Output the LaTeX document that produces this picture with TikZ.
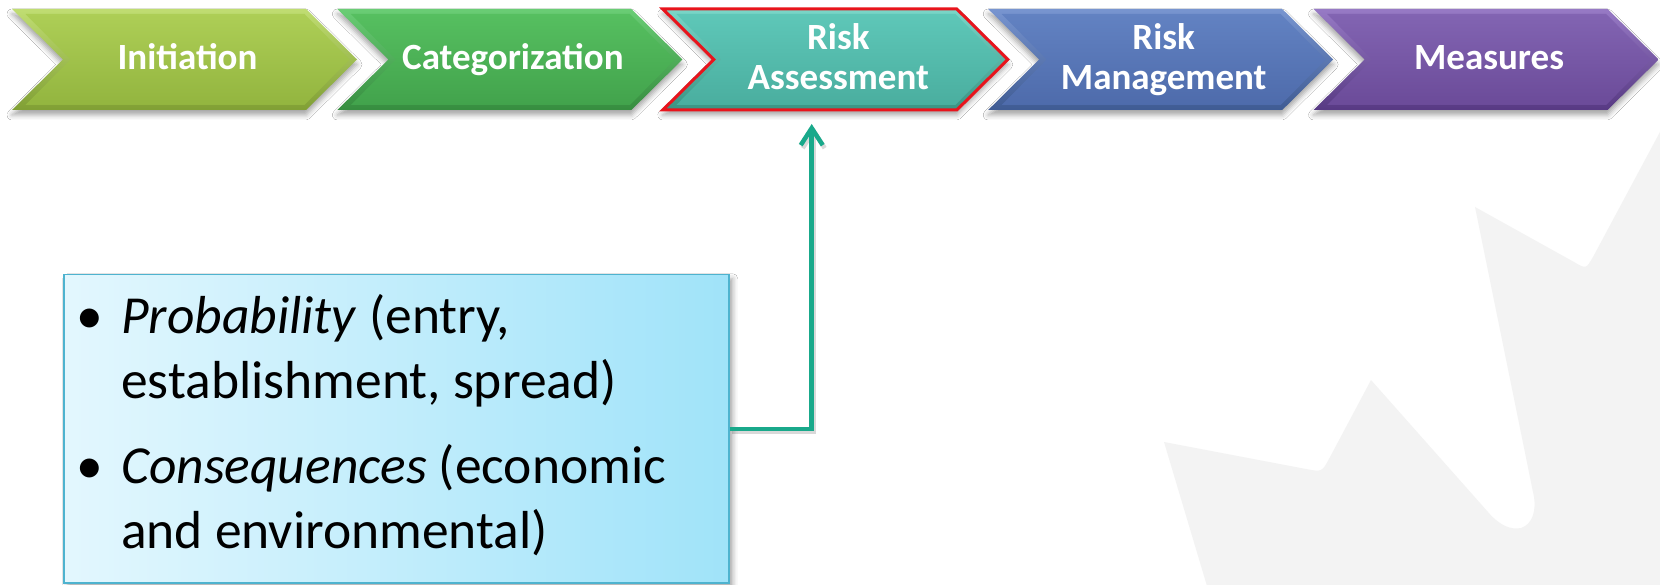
\documentclass[tikz,border=0pt]{standalone}
\usepackage{fontspec}
\setmainfont{Carlito}
\usetikzlibrary{shadows.blur,arrows.meta,calc}
\definecolor{bggray}{HTML}{F3F3F3}
\definecolor{conncol}{HTML}{19A98B}
\definecolor{boxborder}{HTML}{4EB3CF}
\definecolor{boxleft}{HTML}{E3F7FE}
\definecolor{boxright}{HTML}{A0E3F9}
\definecolor{redline}{HTML}{E8141C}
\definecolor{aT}{HTML}{C0DD72}\definecolor{aB}{HTML}{809F34}\definecolor{aiT}{HTML}{ADCE56}\definecolor{aiB}{HTML}{93B53F}
\definecolor{bT}{HTML}{6ACD75}\definecolor{bB}{HTML}{368D3F}\definecolor{biT}{HTML}{56BF60}\definecolor{biB}{HTML}{42A34C}
\definecolor{cT}{HTML}{7AD6C8}\definecolor{cB}{HTML}{3A9383}\definecolor{ciT}{HTML}{5EC7B8}\definecolor{ciB}{HTML}{4AAE9F}
\definecolor{dT}{HTML}{7895D0}\definecolor{dB}{HTML}{3F5B93}\definecolor{diT}{HTML}{6282C2}\definecolor{diB}{HTML}{4E6BAB}
\definecolor{eT}{HTML}{977AC5}\definecolor{eB}{HTML}{573983}\definecolor{eiT}{HTML}{8264B2}\definecolor{eiB}{HTML}{6B4B99}
\begin{document}
\begin{tikzpicture}[x=1pt,y=-1pt,
  chevtext/.style={text=white,font=\fontsize{37}{40}\selectfont\bfseries,inner sep=0pt,anchor=base},
  chevshadow/.style={blur shadow={shadow xshift=0pt,shadow yshift=-5pt,shadow blur radius=5pt,shadow opacity=35}},
  boxstyle/.style={draw=boxborder,line width=1.5pt,left color=boxleft,right color=boxright,
    blur shadow={shadow xshift=4pt,shadow yshift=-4pt,shadow blur radius=5pt,shadow opacity=35},
    minimum width=665pt,minimum height=308pt,inner sep=0pt,anchor=north west},
  conn/.style={draw=conncol,line width=4.5pt,line join=miter,-{Straight Barb[length=17pt,width=22pt]}},
]
\useasboundingbox (0,0) rectangle (1660,585);
\fill[white] (0,0) rectangle (1660,585);
% background decoration
\fill[bggray] (1207,586) -- (1164,442) -- (1306,469) .. controls (1322,472) .. (1329.5,458)
  -- (1371,380) -- (1488,512) .. controls (1500,526) and (1511,530) .. (1521,528)
  .. controls (1533,524) and (1536,510) .. (1534,497) -- (1475,207)
  -- (1574,262) .. controls (1586,269) .. (1593,257) -- (1661,130) -- (1661,586) -- cycle;
% chevrons
\foreach \i/\tc/\bc/\itc/\ibc in {0/aT/aB/aiT/aiB,1/bT/bB/biT/biB,2/cT/cB/ciT/ciB,3/dT/dB/diT/diB,4/eT/eB/eiT/eiB}{
  \pgfmathsetmacro{\L}{12+325.4*\i}
  \path[chevshadow,top color=\tc,bottom color=\bc] (\L,9) -- (\L+294,9) -- (\L+345,59.5) -- (\L+294,110) -- (\L,110) -- (\L+51,59.5) -- cycle;
  \path[top color=\itc,bottom color=\ibc] (\L+13.5,14) -- (\L+292.5,14) -- (\L+337.5,59.5) -- (\L+292.5,105) -- (\L+13.5,105) -- (\L+58.5,59.5) -- cycle;
}
\draw[redline,line width=3pt,line join=miter] (662.8,9) -- (956.8,9) -- (1007.8,59.5) -- (956.8,110) -- (662.8,110) -- (713.8,59.5) -- cycle;
\node[chevtext] (ini) at (187.5,70) {Initiation};
\node[chevtext] (cat) at (512.9,70) {Categorization};
\node[chevtext] (ra) at (838.3,50) {\parbox[t]{300pt}{\centering Risk\\Assessment}};
\node[chevtext] (rm) at (1163.7,50) {\parbox[t]{300pt}{\centering Risk\\Management}};
\node[chevtext] (mea) at (1489.1,70) {Measures};
% box
\node[boxstyle] (box) at (63,274) {};
\node[anchor=base west,inner sep=0pt] (boxtext) at (121,334) {\parbox[t]{600pt}{\fontsize{53.5}{65}\selectfont
\leavevmode\llap{\textbullet\hspace{18pt}}\textit{Probability} (entry,\\
establishment, spread)\\[20pt]
\llap{\textbullet\hspace{18pt}}\textit{Consequences} (economic\\
and environmental)}};
% connector
\coordinate (ahead) at (811.7,124);
\draw[conn,draw=black,opacity=0.15,transform canvas={xshift=2pt,yshift=-3pt}] (box.east) -| (ahead);
\draw[conn] (box.east) -| (ahead);
\end{tikzpicture}
\end{document}
